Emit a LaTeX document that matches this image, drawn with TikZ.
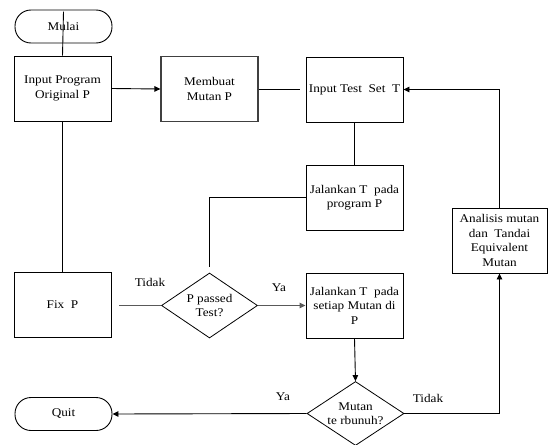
\documentclass[tikz,border=0pt]{standalone}
\usepackage{fontspec}
\setmainfont{Liberation Serif}[FakeStretch=1.12]
\usetikzlibrary{shapes.geometric,arrows.meta}
\tikzset{
  base/.style={font=\fontsize{11.8}{14.5}\selectfont, align=center, inner sep=1pt, text=black},
  boxnode/.style={base, draw, line width=0.9pt, rectangle, minimum width=97pt, minimum height=65pt},
  termnode/.style={base, draw, line width=0.9pt, rectangle, rounded corners=16pt, minimum width=97pt, minimum height=33pt},
  decnode/.style={base, draw, line width=0.8pt, diamond, aspect=1.5, inner sep=0pt, minimum width=96pt, minimum height=65pt},
  lbl/.style={base},
  conn/.style={line width=0.9pt},
  arr/.style={line width=0.9pt, -{Triangle[length=6pt,width=5.5pt]}},
  greyconn/.style={line width=1.2pt, draw=black!65}
}
\begin{document}
\begin{tikzpicture}[x=1pt,y=-1pt]
\useasboundingbox[fill=white] (0,0) rectangle (548,444);
\node[termnode] (mulai) at (63.5,26.5) {Mulai};
\node[boxnode] (input) at (62.5,88.5) {Input Program\\Original P};
\node[boxnode, draw=black!75, line width=1.2pt] (membuat) at (209.5,89) {Membuat\\Mutan P};
\node[boxnode] (inputT) at (354.5,89.5) {Input Test\ \ Set\ \ T};
\node[boxnode] (jalan1) at (354.5,197.5) {Jalankan T\ \ pada\\program P};
\node[boxnode] (fix) at (62.5,304.5) {Fix\ \ P};
\node[decnode] (d1) at (209.5,305.5) {P passed\\Test?};
\node[boxnode] (jalan2) at (354.5,305.5) {Jalankan T\ \ pada\\setiap Mutan di\\P};
\node[decnode, minimum width=97pt, minimum height=64pt] (d2) at (355.5,413.5) {Mutan\\te rbunuh?};
\node[termnode] (quit) at (63.5,414) {Quit};
\node[boxnode, minimum width=95pt] (analisis) at (499.5,240.5) {Analisis mutan\\dan\ \ Tandai\\Equivalent\\Mutan};

\node[lbl] (ltidak1) at (150,282) {Tidak};
\node[lbl] (lya1) at (279,288) {Ya};
\node[lbl] (lya2) at (283,397) {Ya};
\node[lbl] (ltidak2) at (428,398) {Tidak};

\coordinate (gapT) at (300,89);
\coordinate (fixR) at (119,305.5);

\draw[conn] ([yshift=-2pt]mulai.north) -- (input.north);
\draw[conn] (input.south) -- (fix.north);
\draw[arr] (input.east) -- (membuat.west);
\draw[conn] (membuat.east) -- (gapT);
\draw[conn] (inputT.south) -- (jalan1.north);
\draw[conn] (jalan1.west) -| ([yshift=6pt]d1.north);
\draw[greyconn] (d1.west) -- (fixR);
\draw[greyconn, -{Triangle[length=6pt,width=5.5pt]}] (d1.east) -- (jalan2.west);
\draw[arr] (jalan2.south) -- (d2.north);
\draw[arr] (d2.west) -- (quit.east);
\draw[arr] (d2.east) -| (analisis.south);
\draw[arr] (analisis.north) |- (inputT.east);
\end{tikzpicture}
\end{document}
